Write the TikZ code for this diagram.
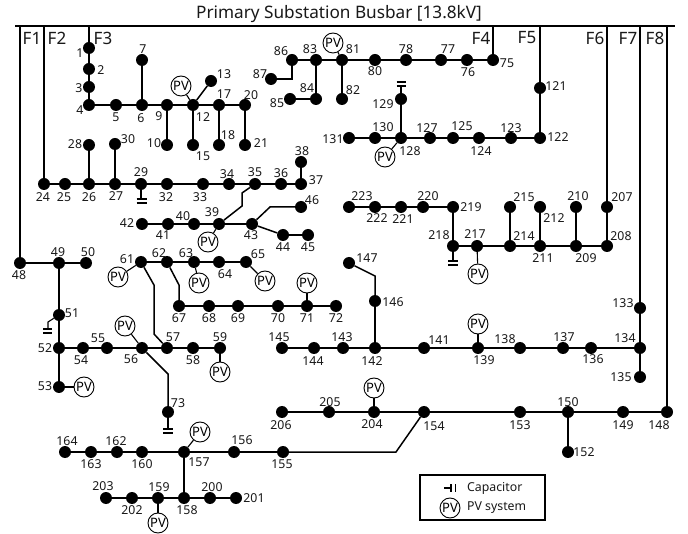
\documentclass[tikz,border=0pt]{standalone}
\usepackage{fontspec}
\setmainfont{Noto Sans}
\newcommand{\Bus}[6][]{%
  \node[busnode] (b#2) at (#3) {};
  \node[buslabel,#1] (l#2) at (#5,#6) {#4};}
\newcommand{\Bu}[5]{\Bus{#1}{#2,#3}{#1}{#4}{#5}}
\newcommand{\PVs}[3]{%
  \node[pvnode] (pv#1) at (#2,#3) {PV};
  \draw[pvlink] (pv#1) -- (b#1);}
\begin{document}
\begin{tikzpicture}[x=1pt,y=-1pt,
  busnode/.style={circle,fill=black,draw=none,minimum size=12pt,inner sep=0pt},
  buslabel/.style={font=\fontsize{12.3}{13}\selectfont,inner sep=0pt,text=black!90},
  pvnode/.style={circle,draw=black,line width=0.9pt,fill=white,minimum size=20pt,inner sep=0pt,font=\fontsize{13}{13}\selectfont},
  pvlink/.style={line width=1.1pt,black},
  feeder/.style={line width=1.5pt,black},
  branch/.style={line width=1.5pt,black},
  plate/.style={line width=1.5pt,black},
  feedername/.style={font=\fontsize{17}{18}\selectfont,inner sep=0pt,text=black!90},
  legendtext/.style={font=\fontsize{12.3}{13}\selectfont,inner sep=0pt,anchor=west,text=black!90}]
\useasboundingbox (0,0) rectangle (688,534);
\fill[white] (0,0) rectangle (688,534);
\node[font=\fontsize{17.2}{20}\selectfont,inner sep=0pt,text=black!90] (title) at (339,14) {Primary Substation Busbar [13.8kV]};
\coordinate (barL) at (15,26); \coordinate (barR) at (675,26);
\draw[line width=2.4pt] (barL) -- (barR);
\foreach \n/\x/\nx in {1/20/32,2/44/57,3/89/103,4/493/481,5/540/527,6/607/595,7/640/628,8/667/655}{
  \coordinate (top\n) at (\x,26);
  \node[feedername] (F\n) at (\nx,38) {F\n};
}
% Buses: id, x, y, label x, label y
\Bu{1}{89}{48}{80}{53}\Bu{2}{89}{69}{101}{70}\Bu{3}{89}{87}{79}{88}\Bu{4}{89}{105}{80}{110}
\Bu{5}{116}{105}{116}{117}\Bu{6}{142}{105}{141}{118}\Bu{7}{142}{60}{143}{49}\Bu{9}{167}{105}{159}{116}
\Bu{10}{167}{145}{154}{143}\Bu{12}{193}{105}{203}{117}\Bu{13}{211}{81}{224}{74}\Bu{15}{193}{145}{203}{156}
\Bu{17}{219}{105}{224}{94}\Bu{18}{219}{145}{228}{135}\Bu{20}{245}{105}{251}{95}\Bu{21}{245}{145}{261}{143}
\Bu{28}{89}{145}{75}{144}\Bu{30}{115}{144}{128}{139}
\Bu{24}{44}{184}{43}{197}\Bu{25}{65}{184}{64}{197}\Bu{26}{89}{184}{89}{197}\Bu{27}{115}{184}{116}{196}
\Bu{29}{141}{184}{141}{172}\Bu{32}{167}{184}{166}{197}\Bu{33}{203}{184}{200}{197}\Bu{34}{229}{184}{227}{174}
\Bu{35}{255}{184}{255}{172}\Bu{36}{281}{184}{281}{173}\Bu{37}{301}{184}{316}{180}\Bu{38}{301}{162}{302}{151}
\Bu{39}{219}{224}{212}{212}\Bu{40}{194}{224}{183}{216}\Bu{41}{168}{224}{163}{235}\Bu{42}{142}{224}{127}{223}
\Bu{43}{252}{224}{251}{235}\Bu{44}{283}{235}{283}{247}\Bu{45}{308}{235}{308}{247}\Bu{46}{301}{207}{312}{200}
\Bu{48}{20}{263}{19}{275}\Bu{49}{59}{263}{58}{252}\Bu{50}{86}{263}{88}{252}\Bu{51}{59}{315}{72}{313}
\Bu{52}{59}{348}{45}{348}\Bu{53}{59}{387}{45}{386}\Bu{54}{83}{348}{81}{360}\Bu{55}{107}{348}{98}{338}
\Bu{56}{142}{348}{131}{359}\Bu{57}{167}{348}{173}{337}\Bu{58}{193}{348}{193}{360}\Bu{59}{220}{348}{220}{337}
\Bu{73}{168}{412}{178}{403}
\Bu{61}{141}{262}{127}{259}\Bu{62}{167}{262}{159}{253}\Bu{63}{194}{262}{186}{253}\Bu{64}{219}{262}{225}{274}
\Bu{65}{246}{262}{258}{254}\Bu{67}{179}{306}{179}{318}\Bu{68}{209}{306}{209}{318}\Bu{69}{238}{306}{238}{318}
\Bu{70}{278}{306}{278}{318}\Bu{71}{307}{306}{307}{318}\Bu{72}{336}{306}{336}{318}
\Bu{145}{282}{348}{279}{337}\Bu{144}{314}{348}{313}{361}\Bu{143}{343}{348}{342}{337}\Bu{142}{375}{348}{372}{361}
\Bu{146}{375}{301}{393}{302}\Bu{147}{349}{263}{367}{258}\Bu{141}{424}{348}{439}{340}\Bu{139}{478}{348}{484}{360}
\Bu{138}{520}{348}{505}{339}\Bu{137}{563}{348}{564}{337}\Bu{136}{591}{348}{593}{359}\Bu{134}{640}{348}{625}{338}
\Bu{133}{640}{308}{623}{303}\Bu{135}{640}{377}{621}{377}
\Bu{148}{667}{412}{659}{425}\Bu{149}{623}{412}{623}{425}\Bu{150}{568}{412}{568}{402}\Bu{152}{568}{452}{584}{452}
\Bu{153}{520}{412}{520}{425}\Bu{154}{424}{412}{434}{426}\Bu{204}{374}{412}{372}{424}\Bu{205}{329}{412}{330}{402}
\Bu{206}{282}{412}{281}{425}\Bu{155}{283}{452}{282}{464}\Bu{156}{234}{452}{242}{440}\Bu{157}{184}{452}{199}{462}
\Bu{160}{142}{452}{142}{464}\Bu{162}{117}{452}{116}{441}\Bu{163}{91}{452}{91}{464}\Bu{164}{65}{452}{67}{441}
\Bu{158}{184}{498}{187}{510}\Bu{159}{158}{498}{159}{487}\Bu{202}{132}{498}{132}{510}\Bu{203}{106}{498}{103}{486}
\Bu{200}{210}{498}{212}{487}\Bu{201}{236}{498}{254}{498}
\Bu{81}{342}{60}{353}{49}\Bu{80}{375}{60}{375}{71}\Bu{83}{316}{60}{310}{49}\Bu{84}{316}{99}{307}{88}
\Bu{85}{290}{99}{277}{103}\Bu{86}{292}{60}{281}{51}\Bu{87}{271}{79}{260}{74}\Bu{82}{342}{99}{353}{90}
\Bu{78}{406}{60}{406}{49}\Bu{77}{441}{60}{448}{49}\Bu{76}{467}{60}{468}{72}\Bu{75}{493}{60}{507}{63}
\Bu{121}{540}{88}{556}{86}\Bu{122}{540}{138}{558}{137}\Bu{123}{511}{138}{511}{128}\Bu{124}{479}{138}{481}{151}
\Bu{125}{453}{138}{462}{126}\Bu{127}{430}{138}{427}{128}\Bu{128}{401}{138}{410}{151}\Bu{129}{401}{99}{383}{104}
\Bu{130}{375}{138}{383}{127}\Bu{131}{349}{138}{333}{139}
\Bu{207}{607}{207}{622}{197}\Bu{208}{607}{246}{621}{236}\Bu{209}{576}{246}{586}{258}\Bu{210}{576}{207}{578}{196}
\Bu{211}{540}{246}{543}{258}\Bu{212}{540}{207}{554}{218}\Bu{214}{510}{246}{524}{236}\Bu{215}{510}{207}{524}{197}
\Bu{217}{477}{246}{475}{234}\Bu{218}{453}{246}{439}{235}\Bu{219}{453}{207}{471}{207}\Bu{220}{423}{207}{428}{196}
\Bu{221}{401}{207}{403}{219}\Bu{222}{375}{207}{377}{218}\Bu{223}{349}{207}{362}{196}
% Feeders from busbar
\foreach \n/\b in {1/48,2/24,3/1,4/75,5/121,6/207,7/133,8/148}
  \draw[feeder] (top\n) -- (b\b);
% Straight branches
\foreach \a/\b in {1/2,2/3,3/4,4/5,5/6,6/7,6/9,9/10,9/12,12/13,12/15,12/17,17/18,17/20,20/21,
  24/25,25/26,26/28,26/27,27/30,27/29,29/32,32/33,33/34,34/35,35/36,36/37,37/38,
  42/41,41/40,40/39,39/43,43/44,44/45,48/49,49/50,49/51,51/52,52/53,52/54,54/55,55/56,56/57,57/58,58/59,
  61/62,62/63,63/64,64/65,67/68,68/69,69/70,70/71,71/72,
  145/144,144/143,143/142,142/146,142/141,141/139,139/138,138/137,137/136,136/134,134/133,134/135,
  148/149,149/150,150/152,150/153,153/154,154/204,204/205,205/206,
  164/163,163/162,162/160,160/157,157/156,156/155,157/158,158/159,159/202,202/203,158/200,200/201,
  75/76,76/77,77/78,78/80,80/81,81/83,83/86,83/84,84/85,81/82,
  121/122,122/123,123/124,124/125,125/127,127/128,128/129,128/130,130/131,
  207/208,208/209,209/210,209/211,211/212,211/214,214/215,214/217,217/218,218/219,219/220,220/221,221/222,222/223}
  \draw[branch] (b\a) -- (b\b);
% Branches with bends
\draw[branch] (b35) -- (242,193) -- (242,206) -- (b39);
\draw[branch] (b43) -- (270,207) -- (b46);
\draw[branch] (b61) -- (154,285) -- (154,334) -- (b57);
\draw[branch] (b62) -- (179,285) -- (b67);
\draw[branch] (b56) -- (168,374) -- (b73);
\draw[branch] (b147) -- (375,276) -- (b146);
\draw[branch] (b155) -- (396,452) -- (b154);
\draw[branch] (b86) -- (292,79) -- (b87);
% PV systems
\PVs{12}{181}{86}\PVs{39}{208}{242}\PVs{53}{84}{387}\PVs{56}{125}{326}\PVs{59}{220}{372}
\PVs{61}{118}{277}\PVs{63}{199}{283}\PVs{65}{265}{281}\PVs{71}{307}{283}\PVs{139}{478}{324}
\PVs{204}{374}{388}\PVs{157}{200}{432}\PVs{159}{158}{523}\PVs{81}{333}{43}\PVs{128}{385}{157}\PVs{217}{478}{274}
% Capacitors
\coordinate (c29) at (141,198);
\draw[pvlink] (b29) -- (c29);
\draw[plate] (136.5,199) -- (146.5,199) (136.5,203) -- (146.5,203);
\coordinate (c51) at (48,328);
\draw[pvlink] (b51) -- (48,322) -- (c51);
\draw[plate] (43,329) -- (52,329) (43,333) -- (52,333);
\coordinate (c73) at (168,429);
\draw[pvlink] (b73) -- (c73);
\draw[plate] (163,429) -- (173,429) (163,433) -- (173,433);
\coordinate (c129) at (401,86);
\draw[pvlink] (b129) -- (c129);
\draw[plate] (396.5,86) -- (406,86) (396.5,82) -- (406,82);
\coordinate (c218) at (453,261);
\draw[pvlink] (b218) -- (c218);
\draw[plate] (448,261) -- (458,261) (448,265) -- (458,265);
% Legend
\draw[line width=1.4pt] (420,475) rectangle (545,520);
\coordinate (legcapL) at (444,488); \coordinate (legcapR) at (451,488);
\draw[pvlink] (legcapL) -- (legcapR);
\draw[plate] (451,484) -- (451,492) (455.5,484) -- (455.5,492);
\node[pvnode] (legpv) at (450,508) {PV};
\node[legendtext] (legcap) at (467,488) {Capacitor};
\node[legendtext] (legpvtext) at (467,508) {PV system};
\end{tikzpicture}
\end{document}
